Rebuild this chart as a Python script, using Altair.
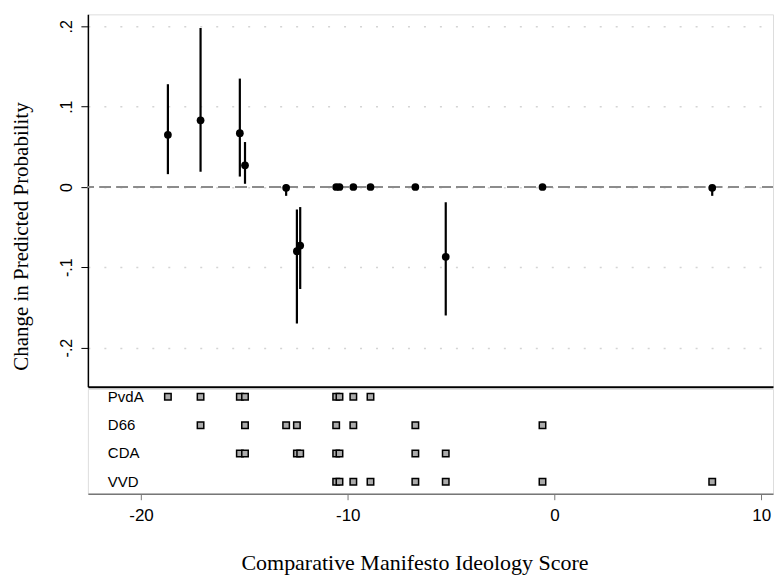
import altair as alt
import pandas as pd

# Effect estimates by manifesto ideology score
x_score = [-18.70, -17.12, -15.22, -14.97, -12.98, -12.46, -12.30, -10.56, -10.40,
           -9.73, -8.90, -6.73, -5.26, -0.58, 7.63]
estimate = [0.065, 0.083, 0.067, 0.027, -0.001, -0.080, -0.073, 0.0, 0.0,
            0.0, 0.0, 0.0, -0.087, 0.0, -0.001]
ci_low = [0.016, 0.019, 0.013, 0.004, -0.011, -0.170, -0.127, -0.001, -0.001,
          -0.001, -0.001, -0.001, -0.160, -0.001, -0.011]
ci_high = [0.128, 0.198, 0.135, 0.056, 0.003, -0.028, -0.025, 0.001, 0.001,
           0.001, 0.001, 0.001, -0.019, 0.001, 0.001]

# Party manifesto scores (rug)
parties = ["PvdA", "D66", "CDA", "VVD"]
pvda_scores = [-18.70, -17.12, -15.22, -14.97, -10.56, -10.40, -9.73, -8.90]
d66_scores = [-17.12, -14.97, -12.98, -12.46, -10.56, -9.73, -6.73, -0.58]
cda_scores = [-15.22, -14.97, -12.46, -12.30, -10.56, -10.40, -6.73, -5.26]
vvd_scores = [-10.56, -10.40, -9.73, -8.90, -6.73, -5.26, -0.58, 7.63]

y_ticks = [-0.2, -0.1, 0.0, 0.1, 0.2]
x_ticks = [-20, -10, 0, 10]

SERIF = "Liberation Serif"
SANS = "Liberation Sans"
W = 686

est_df = pd.DataFrame({"x": x_score, "est": estimate, "lo": ci_low, "hi": ci_high})
rows = []
for i, (p, sc) in enumerate(zip(parties, [pvda_scores, d66_scores, cda_scores, vvd_scores])):
    for s in sc:
        rows.append({"party": p, "score": s, "row": len(parties) - 1 - i})
rug_df = pd.DataFrame(rows)
lab_df = pd.DataFrame({"party": parties, "row": [len(parties) - 1 - i for i in range(len(parties))]})

xscale = alt.Scale(domain=[-22.57, 10.57], nice=False, zero=False)
yscale = alt.Scale(domain=[-0.2489, 0.215], nice=False, zero=False)

yaxis = alt.Axis(
    values=y_ticks,
    labelExpr="datum.value == 0 ? '0' : (datum.value < 0 ? '-' : '') + replace(format(abs(datum.value), '.1f'), '0.', '.')",
    labelAngle=270, labelAlign="center", labelBaseline="bottom",
    labelFont=SANS, labelFontSize=16, labelColor="black", labelPadding=6,
    tickSize=7, tickColor="black", domainColor="black", domainWidth=1.5,
    grid=True, gridDash=[2, 14], gridColor="#d4d4d4", gridWidth=1.5,
    title="Change in Predicted Probability", titleFont=SERIF, titleFontSize=21,
    titleFontWeight="normal", titleColor="black", titleAngle=270,
    titleX=-66, titleY=222, titleAlign="center", titleBaseline="middle",
)
top_xaxis = alt.Axis(labels=False, ticks=False, title=None, grid=False,
                     domainColor="black", domainWidth=2)

x_enc = alt.X("x:Q", scale=xscale, axis=top_xaxis)

zero_line = alt.Chart(est_df).mark_rule(color="#8c8c8c", strokeDash=[11, 6], strokeWidth=1.5).encode(
    y=alt.Y(datum=0, scale=yscale, axis=yaxis)
)
bars = alt.Chart(est_df).mark_rule(color="black", strokeWidth=2.2).encode(
    x=x_enc,
    y=alt.Y("lo:Q", scale=yscale, axis=yaxis),
    y2="hi:Q",
)
pts = alt.Chart(est_df).mark_circle(color="black", size=60, opacity=1).encode(
    x=x_enc,
    y=alt.Y("est:Q", scale=yscale, axis=yaxis),
)
top = alt.layer(zero_line, bars, pts).properties(width=W, height=373)

bot_xaxis = alt.Axis(
    values=x_ticks, labelExpr="'' + datum.value",
    labelFont=SANS, labelFontSize=17, labelColor="black", labelPadding=8,
    tickSize=6, tickColor="#777777", domainColor="#777777", domainWidth=1.5,
    grid=False,
    title="Comparative Manifesto Ideology Score", titleFont=SERIF, titleFontSize=22,
    titleFontWeight="normal", titleColor="black",
    titleX=327, titleY=76, titleAlign="center", titleBaseline="alphabetic",
)
rscale = alt.Scale(domain=[-0.42, 3.28], nice=False, zero=False)
rug = alt.Chart(rug_df).mark_square(size=42, fill="#ababab", stroke="black", strokeWidth=1.5, opacity=1).encode(
    x=alt.X("score:Q", scale=xscale, axis=bot_xaxis),
    y=alt.Y("row:Q", scale=rscale, axis=None),
)
labels = alt.Chart(lab_df).mark_text(align="left", baseline="middle", font=SANS, fontSize=15, color="black").encode(
    x=alt.value(20),
    y=alt.Y("row:Q", scale=rscale, axis=None),
    text="party:N",
)
bottom = alt.layer(rug, labels).properties(width=W, height=105)

chart = alt.vconcat(top, bottom, spacing=0).properties(
    padding={"left": 10, "top": 13, "right": 0, "bottom": 0}
).configure_view(stroke=None).configure(background="white")

chart.save("out.html", embed_options={"renderer": "svg", "actions": False})
